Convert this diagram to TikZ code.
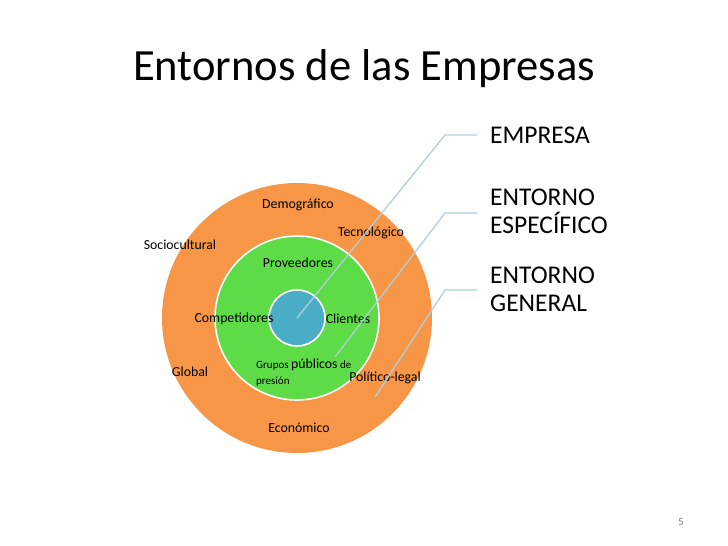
\documentclass[tikz,border=0pt]{standalone}
\usepackage{fontspec}
\setmainfont{Carlito}

\definecolor{ringorange}{HTML}{F79646}
\definecolor{ringgreen}{HTML}{5EDC48}
\definecolor{coreblue}{HTML}{4BACC6}
\definecolor{leadline}{HTML}{AECFDE}

\tikzset{
  ringlabel/.style={font=\fontsize{13.8}{15}\selectfont, inner sep=0pt},
  keylabel/.style={font=\fontsize{25.5}{28}\selectfont, align=left, anchor=west, inner sep=0pt},
  leader/.style={draw=leadline, line width=1.3pt}
}

\begin{document}
\begin{tikzpicture}[x=1pt, y=-1pt]

  \def\cx{297}   % centre x
  \def\cy{318}   % centre y

  \useasboundingbox (0,0) rectangle (728,546);

  % title
  \node[anchor=west, inner sep=0pt, font=\fontsize{44.6}{50}\selectfont] (title) at (133,69) {Entornos de las Empresas};

  % rings
  \fill[ringorange] (\cx,\cy) circle (135);
  \filldraw[fill=ringgreen, draw=white, line width=1.6pt] (\cx,\cy) circle (82);
  \filldraw[fill=coreblue, draw=white, line width=1.6pt] (\cx,\cy) circle (28);
  \coordinate (core) at (\cx,\cy);

  % general environment
  \node[ringlabel] (demo) at (298,205) {Demográfico};
  \node[ringlabel] (tecno) at (371,233) {Tecnológico};
  \node[ringlabel] (socio) at (180,245) {Sociocultural};
  \node[ringlabel] (global) at (190,372) {Global};
  \node[ringlabel] (politico) at (385,378) {Político-legal};
  \node[ringlabel] (econ) at (299,428) {Económico};

  % specific environment
  \node[ringlabel] (prov) at (298,263) {Proveedores};
  \node[ringlabel] (comp) at (234,319) {Competidores};
  \node[ringlabel] (clientes) at (348,319) {Clientes};
  \node[ringlabel, anchor=west, align=left, font=\fontsize{11}{16}\selectfont] (grupos) at (256,373)
    {Grupos {\fontsize{13.8}{16}\selectfont públicos} de\\presión};

  % keys
  \node[keylabel] (kempresa) at (490,135) {EMPRESA};
  \node[keylabel] (kespec) at (490,211) {ENTORNO\\ESPECÍFICO};
  \node[keylabel] (kgeneral) at (490,289) {ENTORNO\\GENERAL};

  \coordinate (e1) at (477,135);
  \coordinate (e2) at (477,213);
  \coordinate (e3) at (477,290);
  \coordinate (p2) at (335,357);
  \coordinate (p3) at (375,397);

  % leaders
  \draw[leader] (core) -- (445,135) -- (e1);
  \draw[leader] (p2) -- (445,213) -- (e2);
  \draw[leader] (p3) -- (445,290) -- (e3);

  % page number
  \node[text=gray, font=\fontsize{11}{12}\selectfont] (page) at (681,522) {5};

\end{tikzpicture}
\end{document}
